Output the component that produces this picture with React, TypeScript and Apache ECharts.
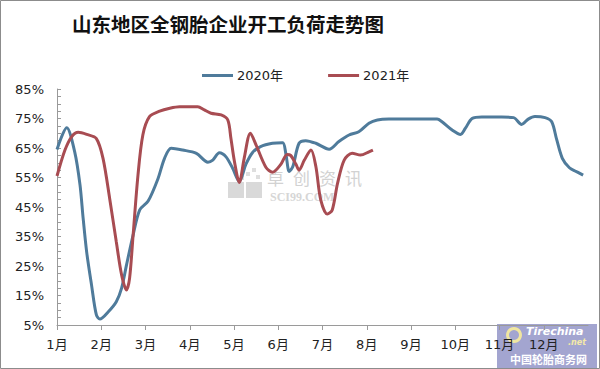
import React, { useEffect, useRef } from "react";
import * as echarts from "echarts";

const chartTitle = "山东地区全钢胎企业开工负荷走势图";
const seriesNames = ["2020年", "2021年"];
const monthLabels = ["1月", "2月", "3月", "4月", "5月", "6月", "7月", "8月", "9月", "10月", "11月", "12月"];
const yTicks = { min: 5, max: 85, step: 10 };
const watermarkChars = ["卓", "创", "资", "讯"];

// [month position (0 = 1月初), load %]
const load2020: [number, number][] = [
  [0, 64.5], [0.22, 71.9], [0.4, 63.7], [0.52, 52.5], [0.59, 41.3], [0.67, 29.8], [0.78, 18.6],
  [0.89, 8.4], [0.97, 7], [1.16, 9.5], [1.34, 12.9], [1.46, 17.5], [1.57, 25.3], [1.72, 35.5],
  [1.87, 44], [2.06, 47], [2.28, 54.5], [2.43, 61.5], [2.58, 64.9], [2.84, 64.3], [3.15, 63.2],
  [3.41, 60.2], [3.52, 60.9], [3.67, 63.4], [3.82, 62], [3.97, 58.1], [4.12, 53.6], [4.27, 59.5],
  [4.42, 63.5], [4.6, 65.5], [4.87, 66.6], [5.1, 66.8], [5.17, 63.2], [5.25, 57], [5.33, 58.7],
  [5.47, 66.6], [5.62, 67.5], [5.85, 66.6], [6.15, 64.6], [6.37, 67.2], [6.6, 69.4], [6.82, 70.5],
  [7.05, 73.4], [7.24, 74.5], [7.5, 74.8], [8.03, 74.8], [8.59, 74.8], [8.7, 73.9], [8.93, 71.1],
  [9.12, 69.6], [9.23, 71.7], [9.38, 75], [9.6, 75.5], [10.05, 75.5], [10.32, 75.3], [10.5, 73],
  [10.65, 74.8], [10.8, 75.7], [11.03, 75.3], [11.18, 73.9], [11.29, 68], [11.42, 61.5],
  [11.58, 58.3], [11.74, 57], [11.89, 55.8],
];

const load2021: [number, number][] = [
  [0, 55.5], [0.18, 64.3], [0.33, 68.8], [0.48, 70.3], [0.67, 69.6], [0.89, 68.2], [1.04, 61.5],
  [1.19, 47.9], [1.34, 33.2], [1.46, 22], [1.57, 16.9], [1.64, 20.8], [1.72, 35.5], [1.83, 55.8],
  [1.94, 69.4], [2.09, 75.6], [2.32, 77.5], [2.55, 78.5], [2.77, 79], [3.18, 79], [3.33, 77.9],
  [3.48, 76.8], [3.71, 76.2], [3.86, 74.5], [3.93, 68.3], [4.01, 60.4], [4.12, 53.3], [4.23, 61.5],
  [4.37, 70], [4.5, 66], [4.72, 58.5], [4.87, 56.8], [5.06, 59.5], [5.2, 62.8], [5.28, 62.5],
  [5.4, 59.5], [5.47, 57.5], [5.59, 60.9], [5.74, 64.3], [5.85, 58.7], [5.96, 47.4], [6.11, 42.6],
  [6.22, 44], [6.34, 53], [6.49, 60.9], [6.67, 63.2], [6.86, 62.6], [7.05, 63.7], [7.14, 64.3],
];

const FONT = "DejaVu Sans, Noto Sans CJK SC, sans-serif";
const CJK = "Noto Sans CJK SC, sans-serif";

export default function App() {
  const ref = useRef<HTMLDivElement>(null);
  useEffect(() => {
    if (!ref.current) return;
    const chart = echarts.init(ref.current, null, { renderer: "svg" });
    chart.setOption({
      animation: false,
      backgroundColor: "#ffffff",
      title: {
        text: chartTitle,
        left: 72,
        top: 14,
        padding: 0,
        textStyle: { fontSize: 19.5, fontWeight: "bold", fontFamily: CJK, color: "#111" },
      },
      legend: {
        data: seriesNames,
        left: 202,
        top: 69,
        padding: 0,
        icon: "rect",
        itemWidth: 31,
        itemHeight: 3,
        itemGap: 45,
        textStyle: { fontSize: 13, fontFamily: FONT, color: "#222", padding: [0, 0, 0, -1] },
      },
      grid: { left: 57, right: 12, top: 89, bottom: 44, containLabel: false },
      xAxis: {
        type: "value",
        min: 0,
        max: 12,
        interval: 1,
        axisLine: { lineStyle: { color: "#9a9a9a", width: 1 } },
        axisTick: { show: true, length: 5, lineStyle: { color: "#9a9a9a" } },
        splitLine: { show: false },
        axisLabel: {
          margin: 13,
          fontSize: 13,
          fontFamily: FONT,
          color: "#222",
          showMaxLabel: false,
          formatter: (v: number) => monthLabels[Math.round(v)] ?? "",
        },
      },
      yAxis: {
        type: "value",
        min: yTicks.min,
        max: yTicks.max,
        interval: yTicks.step,
        axisLine: { show: true, lineStyle: { color: "#9a9a9a", width: 1 } },
        axisTick: { show: true, inside: true, length: 4, lineStyle: { color: "#9a9a9a" } },
        minorTick: { show: true, splitNumber: 4, length: 4, lineStyle: { color: "#9a9a9a" } },
        splitLine: { show: false },
        axisLabel: {
          margin: 13,
          fontSize: 13,
          fontFamily: FONT,
          color: "#222",
          formatter: (v: number) => `${v}%`,
        },
      },
      series: [
        {
          name: seriesNames[0],
          type: "line",
          data: load2020,
          smooth: 0.3,
          showSymbol: false,
          symbol: "none",
          lineStyle: { width: 3, color: "#4f7b9b" },
          itemStyle: { color: "#4f7b9b" },
          z: 3,
        },
        {
          name: seriesNames[1],
          type: "line",
          data: load2021,
          smooth: 0.3,
          showSymbol: false,
          symbol: "none",
          lineStyle: { width: 3, color: "#a84c52" },
          itemStyle: { color: "#a84c52" },
          z: 4,
        },
      ],
      graphic: [
        {
          type: "rect",
          z: 200,
          silent: true,
          shape: { x: 0.5, y: 0.5, width: 599, height: 368 },
          style: { fill: "none", stroke: "#8c8c8c", lineWidth: 1 },
        },
        // watermark
        {
          type: "group",
          z: 1,
          silent: true,
          children: [
            { type: "rect", shape: { x: 228, y: 182, width: 16, height: 16 }, style: { fill: "#d9d9d9" } },
            { type: "rect", shape: { x: 246, y: 182, width: 16, height: 16 }, style: { fill: "#d9d9d9" } },
            { type: "rect", shape: { x: 246, y: 172, width: 4, height: 4 }, style: { fill: "#dedede" } },
            { type: "rect", shape: { x: 252, y: 168, width: 4, height: 4 }, style: { fill: "#dedede" } },
            { type: "rect", shape: { x: 256, y: 175, width: 4, height: 4 }, style: { fill: "#dedede" } },
            { type: "rect", shape: { x: 240, y: 176, width: 4, height: 4 }, style: { fill: "#dedede" } },
            ...watermarkChars.map((c, i) => ({
              type: "text",
              x: 267 + i * 26,
              y: 177,
              style: { text: c, font: `17px ${CJK}`, fill: "#d2d2d2", textVerticalAlign: "middle" },
            })),
            {
              type: "text",
              x: 270,
              y: 197,
              style: { text: "SCI99.COM", font: `bold 12px Liberation Serif, serif`, fill: "#d6d6d6", textVerticalAlign: "middle" },
            },
          ],
        },
        // bottom-right logo
        {
          type: "group",
          z: 150,
          silent: true,
          children: [
            {
              type: "rect",
              shape: { x: 497, y: 324, width: 100, height: 44 },
              style: { fill: "rgba(128,130,190,0.72)" },
            },
            {
              type: "ring",
              shape: { cx: 514, cy: 335, r: 8, r0: 5 },
              style: { fill: "#f0e6a0" },
            },
            {
              type: "text",
              x: 526,
              y: 331,
              style: { text: "Tirechina", font: `italic bold 11px ${FONT}`, fill: "#ffffff", textVerticalAlign: "middle" },
            },
            {
              type: "text",
              x: 568,
              y: 342,
              style: { text: ".net", font: `italic bold 8px ${FONT}`, fill: "#f4e9a8", textVerticalAlign: "middle" },
            },
            {
              type: "text",
              x: 510,
              y: 359,
              style: { text: "中国轮胎商务网", font: `bold 11px ${CJK}`, fill: "#ffffff", textVerticalAlign: "middle" },
            },
          ],
        },
      ],
    });
    return () => chart.dispose();
  }, []);
  return (
    <div
      ref={ref}
      style={{ position: "fixed", left: 0, top: 0, width: 600, height: 369 }}
    />
  );
}
